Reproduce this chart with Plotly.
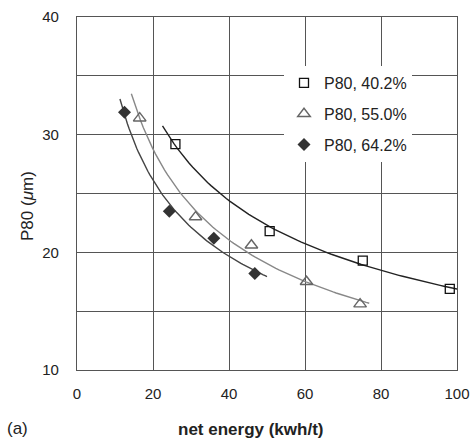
import numpy as np
import plotly.graph_objects as go

# data
e_402 = [25.9, 50.7, 75.2, 98.1]
p_402 = [29.2, 21.8, 19.3, 16.9]
e_550 = [16.5, 31.2, 45.9, 60.4, 74.5]
p_550 = [31.4, 23.0, 20.6, 17.5, 15.6]
e_642 = [12.5, 24.3, 36.0, 46.8]
p_642 = [31.9, 23.5, 21.2, 18.2]
labels = ["P80, 40.2%", "P80, 55.0%", "P80, 64.2%"]
fit_ext = [(22.5, 100.5), (14.3, 76.9), (11.3, 50.0)]
x_ticks = [0, 20, 40, 60, 80, 100]
y_ticks = [10, 20, 30, 40]

FONT = "Liberation Sans, Arial, sans-serif"

def power_fit(x, y, lo, hi):
    b, lna = np.polyfit(np.log(x), np.log(y), 1)
    xs = np.linspace(lo, hi, 80)
    return xs, np.exp(lna) * xs ** b

fig = go.Figure()
series = [
    (e_402, p_402, dict(symbol="square-open", size=9, color="#111", line=dict(width=1.3)), "#222"),
    (e_550, p_550, dict(symbol="triangle-up-open", size=11, color="#666", line=dict(width=1.4)), "#888"),
    (e_642, p_642, dict(symbol="diamond", size=10, color="#333"), "#444"),
]
for i, (x, y, mk, lc) in enumerate(series):
    xs, ys = power_fit(x, y, *fit_ext[i])
    fig.add_trace(go.Scatter(x=xs, y=ys, mode="lines", line=dict(color=lc, width=1.4),
                             showlegend=False, hoverinfo="skip"))
for i, (x, y, mk, lc) in enumerate(series):
    fig.add_trace(go.Scatter(x=x, y=y, mode="markers", marker=mk, name=labels[i],
                             legendgroup=f"g{i}"))

axis_common = dict(showgrid=True, gridcolor="#555", gridwidth=1.3, showline=True,
                   linecolor="#555", linewidth=1.3, mirror=True, zeroline=False,
                   automargin=False,
                   ticks="", tickfont=dict(family=FONT, size=15, color="#222"))
fig.update_xaxes(range=[0, 100], tickvals=x_ticks, ticklabelstandoff=10, **axis_common)
fig.update_yaxes(range=[10, 40], tickvals=[10, 15, 20, 25, 30, 35, 40],
                 ticktext=["10", "", "20", "", "30", "", "40"], ticklabelstandoff=14,
                 **axis_common)

pw, ph = 470 - 77 - 13, 439 - 17 - 69
def px(xp): return (xp - 77) / pw
def py(yp): return (439 - 69 - yp) / ph

fig.update_layout(
    width=470, height=439,
    margin=dict(l=77, r=13, t=17, b=69),
    paper_bgcolor="white", plot_bgcolor="white",
    font=dict(family=FONT, color="#222"),
    legend=dict(x=px(284), y=py(66), xanchor="left", yanchor="top", bgcolor="white",
                font=dict(family=FONT, size=16, color="#222"), tracegroupgap=7,
                traceorder="grouped", itemwidth=30),
    annotations=[
        dict(text="<b>net energy (kwh/t)</b>", x=px(250), y=py(429), xref="paper", yref="paper",
             showarrow=False, font=dict(family=FONT, size=17, color="#222"),
             xanchor="center", yanchor="middle"),
        dict(text="P80 (<i>μ</i>m)", x=px(27), y=py(206), xref="paper", yref="paper",
             showarrow=False, textangle=-90, font=dict(family=FONT, size=17, color="#222"),
             xanchor="center", yanchor="middle"),
        dict(text="(a)", x=px(18), y=py(428), xref="paper", yref="paper", showarrow=False,
             font=dict(family=FONT, size=17, color="#222"), xanchor="center", yanchor="middle"),
    ],
)

fig.write_html("out.html")
